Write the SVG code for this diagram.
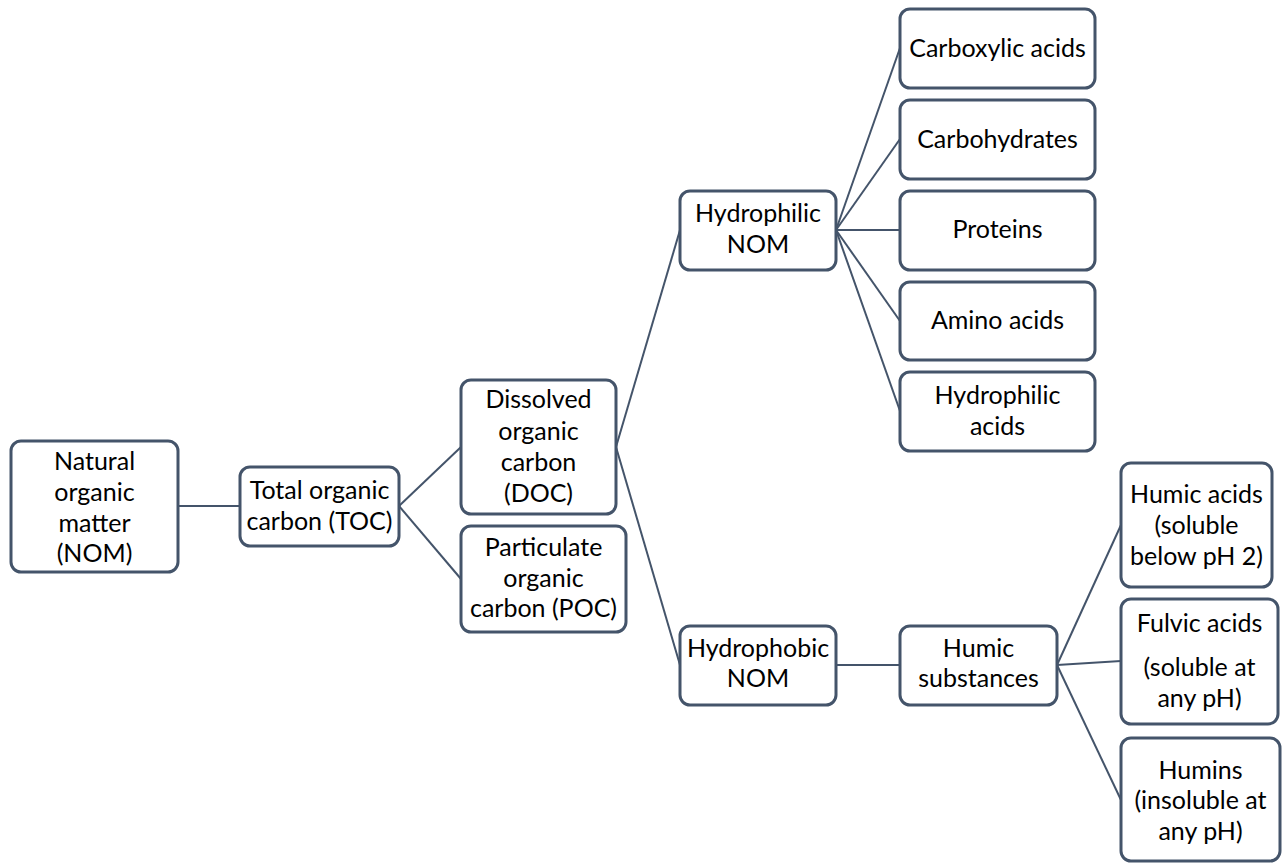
<svg xmlns="http://www.w3.org/2000/svg" width="1282" height="863" viewBox="0 0 1282 863">
<style>
.n rect{fill:#fff;stroke:#44546A;stroke-width:3}
.n text{font-family:Lato,"Open Sans","Liberation Sans",sans-serif;font-size:25px;fill:#000;text-anchor:middle;dominant-baseline:central}
#edges line{stroke:#44546A;stroke-width:2}
</style>
<rect width="1282" height="863" fill="#fff"/>
<g id="edges">
<line x1="178" y1="506" x2="240" y2="506"/>
<line x1="399" y1="506" x2="461" y2="447"/>
<line x1="399" y1="506" x2="461" y2="579"/>
<line x1="616" y1="447" x2="680" y2="230"/>
<line x1="616" y1="447" x2="680" y2="665"/>
<line x1="836" y1="230" x2="900" y2="48"/>
<line x1="836" y1="230" x2="900" y2="139"/>
<line x1="836" y1="230" x2="900" y2="230"/>
<line x1="836" y1="230" x2="900" y2="321"/>
<line x1="836" y1="230" x2="900" y2="411"/>
<line x1="836" y1="665" x2="900" y2="665"/>
<line x1="1057" y1="665" x2="1121" y2="525"/>
<line x1="1057" y1="665" x2="1121" y2="661"/>
<line x1="1057" y1="665" x2="1121" y2="800"/>
</g>
<g id="nom" class="n"><rect x="11" y="441" width="167" height="131" rx="10"/><text x="94.5"><tspan x="94.5" y="460">Natural</tspan><tspan x="94.5" y="491">organic</tspan><tspan x="94.5" y="522">matter</tspan><tspan x="94.5" y="552">(NOM)</tspan></text></g>
<g id="toc" class="n"><rect x="240" y="467" width="159" height="79" rx="10"/><text><tspan x="319.5" y="489">Total organic</tspan><tspan x="319.5" y="520">carbon (TOC)</tspan></text></g>
<g id="doc" class="n"><rect x="461" y="380" width="155" height="134" rx="10"/><text><tspan x="538.5" y="398">Dissolved</tspan><tspan x="538.5" y="430">organic</tspan><tspan x="538.5" y="461">carbon</tspan><tspan x="538.5" y="492">(DOC)</tspan></text></g>
<g id="poc" class="n"><rect x="461" y="526" width="165" height="106" rx="10"/><text><tspan x="543.5" y="546">Particulate</tspan><tspan x="543.5" y="577">organic</tspan><tspan x="543.5" y="607">carbon (POC)</tspan></text></g>
<g id="hydrophilic" class="n"><rect x="680" y="191" width="156" height="79" rx="10"/><text><tspan x="758" y="212">Hydrophilic</tspan><tspan x="758" y="243">NOM</tspan></text></g>
<g id="hydrophobic" class="n"><rect x="680" y="626" width="156" height="79" rx="10"/><text><tspan x="758" y="647">Hydrophobic</tspan><tspan x="758" y="677">NOM</tspan></text></g>
<g id="carboxylic" class="n"><rect x="900" y="9" width="195" height="79" rx="10"/><text x="997.5" y="47">Carboxylic acids</text></g>
<g id="carbohydrates" class="n"><rect x="900" y="100" width="195" height="79" rx="10"/><text x="997.5" y="138">Carbohydrates</text></g>
<g id="proteins" class="n"><rect x="900" y="191" width="195" height="79" rx="10"/><text x="997.5" y="228">Proteins</text></g>
<g id="amino" class="n"><rect x="900" y="282" width="195" height="78" rx="10"/><text x="997.5" y="319">Amino acids</text></g>
<g id="hacids" class="n"><rect x="900" y="372" width="195" height="79" rx="10"/><text><tspan x="997.5" y="394">Hydrophilic</tspan><tspan x="997.5" y="425">acids</tspan></text></g>
<g id="humic" class="n"><rect x="900" y="626" width="157" height="79" rx="10"/><text><tspan x="978.5" y="647">Humic</tspan><tspan x="978.5" y="677">substances</tspan></text></g>
<g id="humicacids" class="n"><rect x="1121" y="463" width="151" height="124" rx="10"/><text><tspan x="1196.5" y="493">Humic acids</tspan><tspan x="1196.5" y="524">(soluble</tspan><tspan x="1196.5" y="555">below pH 2)</tspan></text></g>
<g id="fulvic" class="n"><rect x="1121" y="599" width="157" height="125" rx="10"/><text><tspan x="1199.5" y="622">Fulvic acids</tspan><tspan x="1199.5" y="666">(soluble at</tspan><tspan x="1199.5" y="697">any pH)</tspan></text></g>
<g id="humins" class="n"><rect x="1121" y="738" width="159" height="123" rx="10"/><text><tspan x="1200.5" y="769">Humins</tspan><tspan x="1200.5" y="799">(insoluble at</tspan><tspan x="1200.5" y="830">any pH)</tspan></text></g>
</svg>
